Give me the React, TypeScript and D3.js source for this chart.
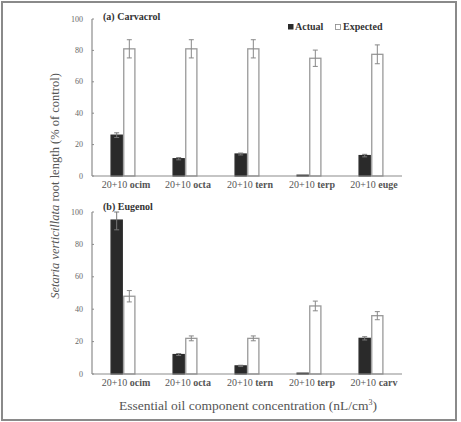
import React from "react";
import * as d3 from "d3";

// compounds paired with the 20 nL/cm3 main oil
const carvCategories = ["ocim", "octa", "tern", "terp", "euge"];
const eugCategories = ["ocim", "octa", "tern", "terp", "carv"];

// (a) carvacrol mixtures
const carvActual = [26, 11, 14, 0.5, 13];
const carvActualErr = [1.5, 0.7, 0.6, 0, 0.8];
const carvExpected = [81, 81, 81, 75, 77.5];
const carvExpectedErr = [5.8, 5.8, 5.8, 5.2, 6];

// (b) eugenol mixtures
const eugActual = [95, 12, 5, 0.5, 22];
const eugActualErr = [6, 0.6, 0.4, 0, 1];
const eugExpected = [48, 22, 22, 42, 36];
const eugExpectedErr = [3.5, 1.5, 1.5, 3, 2.5];

const yTicks = [0, 20, 40, 60, 80, 100];

const FONT = '"Liberation Serif", "Times New Roman", Times, serif';
const AXIS = "#8c8c8c";
const TEXT = "#555";
const DARK = "#2a2a2a";

type PanelProps = {
  title: string;
  titleY: number;
  categories: string[];
  actual: number[];
  actualErr: number[];
  expected: number[];
  expectedErr: number[];
  top: number;
  bottom: number;
  legend?: boolean;
};

function Panel({ title, titleY, categories, actual, actualErr, expected, expectedErr, top, bottom, legend }: PanelProps) {
  const x0 = 92;
  const x1 = 402;
  const x = d3.scaleBand<string>().domain(categories).range([x0, x1]).paddingInner(0.6).paddingOuter(0.3);
  const sub = d3.scaleBand<string>().domain(["actual", "expected"]).range([0, x.bandwidth()]).paddingInner(0.04);
  const y = d3.scaleLinear().domain([0, 100]).range([bottom, top]);

  const series = [
    { key: "actual", values: actual, err: actualErr, fill: DARK, stroke: DARK },
    { key: "expected", values: expected, err: expectedErr, fill: "#fff", stroke: "#999" },
  ];

  return (
    <g>
      {/* bars */}
      {series.map((s) =>
        categories.map((c, i) => {
          const bx = x(c)! + sub(s.key)!;
          const v = s.values[i];
          return (
            <rect
              key={s.key + c}
              x={bx + 0.5}
              y={y(v)}
              width={sub.bandwidth() - 1}
              height={y(0) - y(v)}
              fill={s.fill}
              stroke={s.stroke}
              strokeWidth={1.3}
            />
          );
        })
      )}
      {/* error bars */}
      {series.map((s) =>
        categories.map((c, i) => {
          if (!s.err[i]) return null;
          const cx = x(c)! + sub(s.key)! + sub.bandwidth() / 2;
          const hi = y(Math.min(100, s.values[i] + s.err[i]));
          const lo = y(s.values[i] - s.err[i]);
          const col = s.key === "actual" ? "#777" : "#888";
          return (
            <g key={"e" + s.key + c} stroke={col} strokeWidth={1}>
              <line x1={cx} x2={cx} y1={hi} y2={lo} />
              <line x1={cx - 2.5} x2={cx + 2.5} y1={hi} y2={hi} />
              <line x1={cx - 2.5} x2={cx + 2.5} y1={lo} y2={lo} />
            </g>
          );
        })
      )}
      {/* axes */}
      <line x1={x0} x2={x0} y1={y(100)} y2={y(0)} stroke={AXIS} strokeWidth={1.2} />
      <line x1={x0} x2={x1} y1={y(0)} y2={y(0)} stroke={AXIS} strokeWidth={1.2} />
      {yTicks.map((t) => (
        <g key={t}>
          <line x1={x0} x2={x0 + 2} y1={y(t)} y2={y(t)} stroke={AXIS} strokeWidth={1} />
          <text x={83} y={y(t)} dy="0.32em" textAnchor="end" fontSize={8} fill="#666">
            {t}
          </text>
        </g>
      ))}
      {categories.map((c) => (
        <text key={c} x={x(c)! + x.bandwidth() / 2 + 3} y={bottom + 12} textAnchor="middle" fontSize={10} fill={TEXT}>
          20+10 <tspan fontWeight="bold">{c}</tspan>
        </text>
      ))}
      <text x={103} y={titleY} fontSize={10} fontWeight="bold" fill="#333">
        {title}
      </text>
      {legend && (
        <g fontSize={10} fontWeight="bold" fill="#333">
          <rect x={288} y={24} width={5.5} height={5.5} fill={DARK} />
          <text x={295} y={30}>Actual</text>
          <rect x={335.5} y={24.5} width={5} height={5} fill="#fff" stroke="#888" strokeWidth={0.8} />
          <text x={343} y={30}>Expected</text>
        </g>
      )}
    </g>
  );
}

export default function App() {
  return (
    <svg
      width={461}
      height={422}
      style={{ position: "absolute", left: 0, top: 0, background: "#fff", fontFamily: FONT }}
    >
      <rect x={2} y={2} width={454} height={418} fill="#fff" stroke="#8a8a8a" strokeWidth={2} />
      <Panel
        title="(a) Carvacrol"
        titleY={20}
        categories={carvCategories}
        actual={carvActual}
        actualErr={carvActualErr}
        expected={carvExpected}
        expectedErr={carvExpectedErr}
        top={19}
        bottom={176}
        legend
      />
      <Panel
        title="(b) Eugenol"
        titleY={210}
        categories={eugCategories}
        actual={eugActual}
        actualErr={eugActualErr}
        expected={eugExpected}
        expectedErr={eugExpectedErr}
        top={212}
        bottom={374}
      />
      <text transform="translate(59,186) rotate(-90)" textAnchor="middle" fontSize={12.5} fill={TEXT}>
        <tspan fontStyle="italic">Setaria verticillata</tspan> root length (% of control)
      </text>
      <text x={248} y={410} textAnchor="middle" fontSize={13.5} fill={TEXT}>
        Essential oil component concentration (nL/cm<tspan fontSize={8} dy={-5}>3</tspan>
        <tspan dy={5}>)</tspan>
      </text>
    </svg>
  );
}
